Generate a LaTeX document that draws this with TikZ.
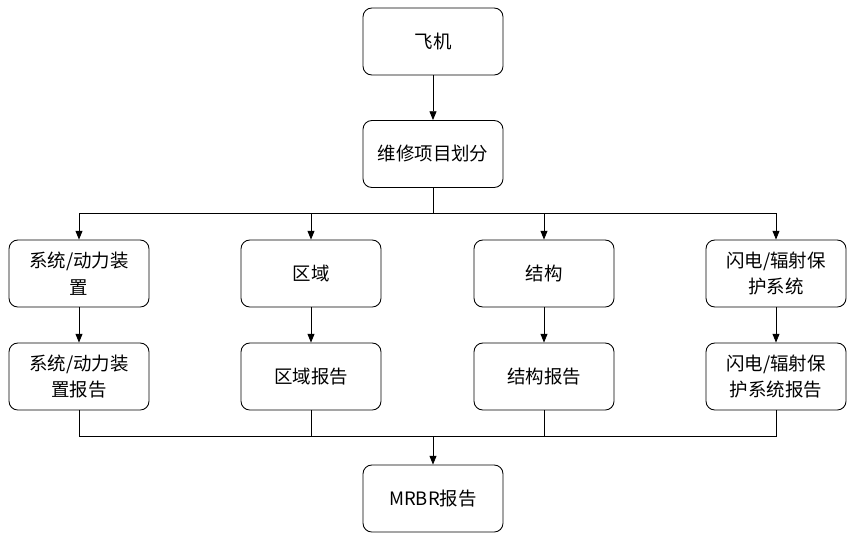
\documentclass[tikz,border=0pt]{standalone}
\usepackage{fontspec}
\setmainfont{Noto Sans CJK SC}
\usetikzlibrary{arrows.meta}
\tikzset{
	blk/.style={draw, rounded corners=5pt, minimum width=2.8cm, minimum height=1.34cm, align=center, font=\fontsize{10.5}{15}\selectfont, line width=0.5pt},
	arr/.style={-{Triangle[length=5pt,width=4pt]}, line width=0.5pt},
	ln/.style={line width=0.5pt}
}
\begin{document}
\begin{tikzpicture}
	\useasboundingbox (0,0) rectangle (17.12,-10.76);
	\node[blk] (plane) at (8.66,-0.83) {飞机};
	\node[blk] (div) at (8.66,-3.08) {维修项目划分};
	\node[blk] (mrbr) at (8.66,-9.97) {MRBR报告};
	
	% items
	\node[blk] (sys) at (1.58,-5.47) {系统/动力装\\置};
	\node[blk] (zone) at (6.22,-5.47) {区域};
	\node[blk] (str) at (10.88,-5.47) {结构};
	\node[blk] (hirf) at (15.52,-5.47) {闪电/辐射保\\护系统};
	% reports
	\node[blk] (sysr) at (1.58,-7.53) {系统/动力装\\置报告};
	\node[blk] (zoner) at (6.22,-7.53) {区域报告};
	\node[blk] (strr) at (10.88,-7.53) {结构报告};
	\node[blk] (hirfr) at (15.52,-7.53) {闪电/辐射保\\护系统报告};
	
	\coordinate (top) at (8.66,-4.26);
	\coordinate (bot) at (8.66,-8.72);
	\draw[arr] (plane) -- (div);
	\draw[ln] (div) -- (top);
	\foreach \a/\b in {sys/sysr, zone/zoner, str/strr, hirf/hirfr}{
		\draw[arr] (top) -| (\a);
		\draw[arr] (\a) -- (\b);
		\draw[ln] (\b) |- (bot);
	}
	\draw[arr] (bot) -- (mrbr);
\end{tikzpicture}
\end{document}
